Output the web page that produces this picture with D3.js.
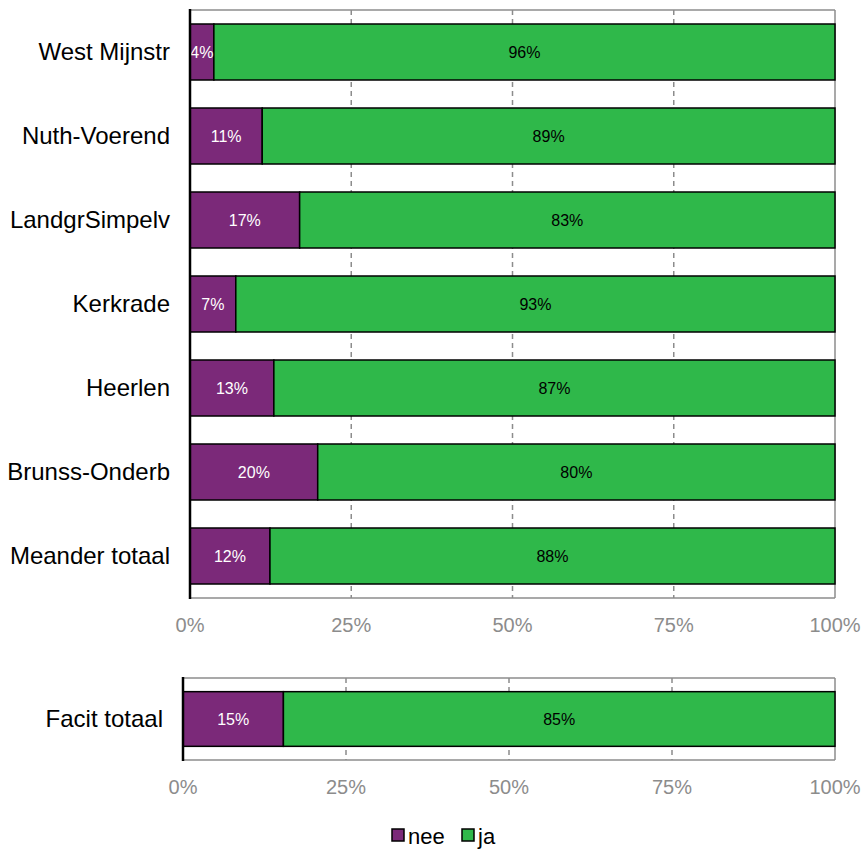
<!DOCTYPE html>
<html>
<head>
<meta charset="utf-8">
<script src="https://cdn.jsdelivr.net/npm/d3@7"></script>
<style>
  body { margin: 0; background: #fff; }
  text { font-family: "Liberation Sans", Arial, sans-serif; }
</style>
</head>
<body>
<script>
const width = 865,
  height = 850;

// data
const regions = ["West Mijnstr", "Nuth-Voerend", "LandgrSimpelv", "Kerkrade", "Heerlen", "Brunss-Onderb", "Meander totaal"];
const neeValues = [3.7, 11.2, 17.0, 7.1, 13.0, 19.8, 12.4];
const jaValues = [96.3, 88.8, 83.0, 92.9, 87.0, 80.2, 87.6];
const neeLabels = ["4%", "11%", "17%", "7%", "13%", "20%", "12%"];
const jaLabels = ["96%", "89%", "83%", "93%", "87%", "80%", "88%"];

const totalCategory = ["Facit totaal"];
const totalNee = [15.4];
const totalJa = [84.6];
const totalNeeLabels = ["15%"];
const totalJaLabels = ["85%"];

const ticks = [0, 25, 50, 75, 100];
const tickLabels = ["0%", "25%", "50%", "75%", "100%"];

const purple = "#7b2979";
const green = "#2fb84a";
const grey = "#8c8c8c";

const svg = d3
  .select("body")
  .append("svg")
  .attr("width", width)
  .attr("height", height);

function panel(opts) {
  const { left, right, top, bottom, cats, nee, ja, neeLab, jaLab, labelGap, tickY } = opts;

  const x = d3.scaleLinear().domain([0, 100]).range([left, right]);
  const y = d3
    .scaleBand()
    .domain(cats)
    .range([top, bottom])
    .paddingInner(1 / 3)
    .paddingOuter(1 / 6);

  const g = svg.append("g");

  // gridlines
  g.selectAll(".grid")
    .data(ticks.slice(1, -1))
    .enter()
    .append("line")
    .attr("x1", d => x(d))
    .attr("x2", d => x(d))
    .attr("y1", top)
    .attr("y2", bottom)
    .attr("stroke", grey)
    .attr("stroke-width", 1.5)
    .attr("stroke-dasharray", "5,4");

  // frame
  g.append("line")
    .attr("x1", x(0)).attr("x2", x(100))
    .attr("y1", top).attr("y2", top)
    .attr("stroke", grey).attr("stroke-width", 1.5);
  g.append("line")
    .attr("x1", x(0)).attr("x2", x(100))
    .attr("y1", bottom).attr("y2", bottom)
    .attr("stroke", grey).attr("stroke-width", 1.5);
  g.append("line")
    .attr("x1", x(100)).attr("x2", x(100))
    .attr("y1", top).attr("y2", bottom)
    .attr("stroke", grey).attr("stroke-width", 1.5);

  const rows = g
    .selectAll(".row")
    .data(cats)
    .enter()
    .append("g");

  rows.append("rect")
    .attr("x", x(0))
    .attr("y", d => y(d))
    .attr("width", (d, i) => x(nee[i]) - x(0))
    .attr("height", y.bandwidth())
    .attr("fill", purple)
    .attr("stroke", "#000")
    .attr("stroke-width", 1.5);

  rows.append("rect")
    .attr("x", (d, i) => x(nee[i]))
    .attr("y", d => y(d))
    .attr("width", (d, i) => x(nee[i] + ja[i]) - x(nee[i]))
    .attr("height", y.bandwidth())
    .attr("fill", green)
    .attr("stroke", "#000")
    .attr("stroke-width", 1.5);

  rows.append("text")
    .attr("x", (d, i) => (x(0) + x(nee[i])) / 2)
    .attr("y", d => y(d) + y.bandwidth() / 2)
    .attr("dy", "0.35em")
    .attr("text-anchor", "middle")
    .attr("fill", "#fff")
    .style("font-size", "16px")
    .text((d, i) => neeLab[i]);

  rows.append("text")
    .attr("x", (d, i) => (x(nee[i]) + x(100)) / 2)
    .attr("y", d => y(d) + y.bandwidth() / 2)
    .attr("dy", "0.35em")
    .attr("text-anchor", "middle")
    .attr("fill", "#000")
    .style("font-size", "16px")
    .text((d, i) => jaLab[i]);

  // category labels
  rows.append("text")
    .attr("x", x(0) - labelGap)
    .attr("y", d => y(d) + y.bandwidth() / 2)
    .attr("dy", "0.35em")
    .attr("text-anchor", "end")
    .attr("fill", "#000")
    .style("font-size", "24px")
    .text(d => d);

  // left axis
  g.append("line")
    .attr("x1", x(0)).attr("x2", x(0))
    .attr("y1", top - 1).attr("y2", bottom + 1)
    .attr("stroke", "#000").attr("stroke-width", 2.5);

  // tick labels
  g.selectAll(".tick")
    .data(ticks)
    .enter()
    .append("text")
    .attr("x", d => x(d))
    .attr("y", tickY)
    .attr("dy", "0.35em")
    .attr("text-anchor", "middle")
    .attr("fill", grey)
    .style("font-size", "20px")
    .text((d, i) => tickLabels[i]);
}

panel({
  left: 190, right: 835, top: 10, bottom: 598,
  cats: regions, nee: neeValues, ja: jaValues,
  neeLab: neeLabels, jaLab: jaLabels,
  labelGap: 20, tickY: 625
});

panel({
  left: 183, right: 835, top: 678, bottom: 760,
  cats: totalCategory, nee: totalNee, ja: totalJa,
  neeLab: totalNeeLabels, jaLab: totalJaLabels,
  labelGap: 20, tickY: 787
});

// legend
const legendItems = [
  { name: "nee", color: purple, x: 392 },
  { name: "ja", color: green, x: 462 }
];
const legend = svg.append("g");
legend.selectAll("rect")
  .data(legendItems)
  .enter()
  .append("rect")
  .attr("x", d => d.x)
  .attr("y", 829)
  .attr("width", 12)
  .attr("height", 12)
  .attr("fill", d => d.color)
  .attr("stroke", "#000")
  .attr("stroke-width", 1.5);
legend.selectAll("text")
  .data(legendItems)
  .enter()
  .append("text")
  .attr("x", d => d.x + 16)
  .attr("y", 836)
  .attr("dy", "0.35em")
  .attr("fill", "#000")
  .style("font-size", "22px")
  .text(d => d.name);
</script>
</body>
</html>
